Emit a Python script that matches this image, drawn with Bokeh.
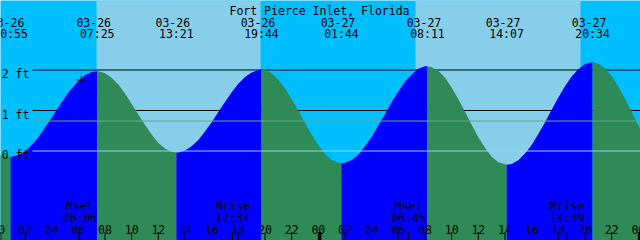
from bokeh.plotting import figure
from bokeh.models import Range1d
from bokeh.core.properties import value
from bokeh.embed import file_html
from bokeh.resources import INLINE

# ---------------- data ----------------
title = "Fort Pierce Inlet, Florida"

# tide level (ft) read every half hour, counted from 03-26 00:00
hours = [i / 2 for i in range(99)]
levels = [-0.09, -0.13, -0.14, -0.10, -0.01, 0.15, 0.34, 0.58, 0.82, 1.08,
          1.33, 1.55, 1.73, 1.87, 1.95, 1.97, 1.92, 1.81, 1.64, 1.42,
          1.16, 0.90, 0.64, 0.41, 0.20, 0.06, -0.02, -0.04, 0.01, 0.12,
          0.27, 0.48, 0.71, 0.96, 1.21, 1.45, 1.66, 1.83, 1.94, 2.00,
          2.00, 1.92, 1.76, 1.55, 1.28, 1.00, 0.69, 0.40, 0.14, -0.07,
          -0.22, -0.29, -0.29, -0.22, -0.09, 0.12, 0.35, 0.63, 0.91, 1.21,
          1.47, 1.71, 1.89, 2.03, 2.09, 2.07, 1.98, 1.81, 1.57, 1.28,
          0.97, 0.65, 0.34, 0.08, -0.14, -0.28, -0.33, -0.32, -0.23, -0.06,
          0.15, 0.42, 0.71, 1.02, 1.32, 1.60, 1.84, 2.02, 2.14, 2.19,
          2.16, 2.04, 1.85, 1.59, 1.29, 0.96, 0.63, 0.31, 0.04]

# high / low tide events
event_dates = ["03-26", "03-26", "03-26", "03-26", "03-27", "03-27", "03-27", "03-27"]
event_times = ["00:55", "07:25", "13:21", "19:44", "01:44", "08:11", "14:07", "20:34"]
event_levels = [-0.14, 1.97, -0.04, 2.01, -0.30, 2.09, -0.34, 2.19]

# daylight
sunrise = ["03-26 07:22", "03-27 07:17"]
sunset = ["03-26 19:40", "03-27 19:40"]

# moon events
moon_names = ["Mset", "Mrise", "Mset", "Mrise"]
moon_dates = ["03-26", "03-26", "03-27", "03-27"]
moon_times = ["06:06", "17:34", "06:45", "18:39"]

# level lines
grid_levels = [0, 1, 2]
grid_labels = ["0 ft", "1 ft", "2 ft"]
mean_level = 0.74

# current-time mark
mark_when = "03-26 06:13"
mark_level = 1.75

# hour axis
tick_hours = [0, 2, 4, 6, 8, 10, 12, 14, 16, 18, 20, 22, 24,
              26, 28, 30, 32, 34, 36, 38, 40, 42, 44, 46, 48]
tick_labels = ["00", "02", "04", "06", "08", "10", "12", "14", "16", "18", "20", "22", "00",
               "02", "04", "06", "08", "10", "12", "14", "16", "18", "20", "22", "00"]
midnights = [0, 24, 48]

# ---------------- layout ----------------
W, H = 640, 240
PX_PER_H = W / 48.0
X0 = 0.1625
X1 = X0 + 48.0
PX_PER_FT = 40.5
ZERO_PX = 150.5
Y1 = ZERO_PX / PX_PER_FT
Y0 = Y1 - H / PX_PER_FT

NIGHT = "#00BFFF"
DAY = "#87CEEB"
RISE = "#0000FF"
FALL = "#2E8B57"
MEAN_COLOR = "#63A98E"
DATUM_COLOR = "#92D5EE"
FONT = value("DejaVu Sans Mono")
FS = "11.5px"


def xpx(px):
    return X0 + px / PX_PER_H


def ypx(px):
    return Y1 - px / PX_PER_FT


def to_h(date, hm):
    day = int(date.split("-")[1]) - 26
    hh, mm = hm.split(":")
    return 24 * day + int(hh) + int(mm) / 60.0


def stamp_h(s):
    d, t = s.split(" ")
    return to_h(d, t)


p = figure(width=W, height=H, output_backend="svg", toolbar_location=None,
           x_range=Range1d(X0, X1), y_range=Range1d(Y0, Y1),
           x_axis_type=None, y_axis_type=None, min_border=0,
           background_fill_color=NIGHT, border_fill_color=NIGHT,
           outline_line_color=None)
p.grid.visible = False

# daylight bands
rise_h = [stamp_h(s) for s in sunrise]
set_h = [stamp_h(s) for s in sunset]
p.quad(left=rise_h, right=set_h, bottom=Y0 - 1, top=Y1 + 1,
       fill_color=DAY, line_color=None)

# level lines behind the water
line_start = xpx(32)
for lv in grid_levels:
    if lv != 0:
        p.segment(x0=[line_start], y0=[lv], x1=[X1 + 1], y1=[lv],
                  line_color="black", line_width=1)

# tide curve: merge half-hourly readings with the extremes
ev_h = [to_h(d, t) for d, t in zip(event_dates, event_times)]
pts = sorted(list(zip(hours, levels)) + list(zip(ev_h, event_levels)))
bounds = [hours[0]] + ev_h + [hours[-1]]
for i in range(len(bounds) - 1):
    a, b = bounds[i], bounds[i + 1]
    seg = [(t, v) for t, v in pts if a <= t <= b]
    xs = [t for t, _ in seg]
    vs = [v for _, v in seg]
    rising = (i % 2 == 1)
    p.varea(x=xs, y1=[Y0 - 1] * len(xs), y2=vs,
            fill_color=RISE if rising else FALL)

# datum and mean lines over the water
p.segment(x0=[line_start], y0=[mean_level], x1=[X1 + 1], y1=[mean_level],
          line_color=MEAN_COLOR, line_width=1)
p.segment(x0=[line_start], y0=[0], x1=[X1 + 1], y1=[0],
          line_color=DATUM_COLOR, line_width=1)

# level labels
p.text(x=[xpx(1.2)] * len(grid_levels),
       y=[ypx(ZERO_PX - lv * PX_PER_FT + 4.0) for lv in grid_levels],
       text=grid_labels, text_font=FONT, text_font_size=FS,
       text_align="left", text_baseline="alphabetic", text_color="black")

# title
p.text(x=[xpx(319)], y=[ypx(10.0)], text=[title], text_font=FONT,
       text_font_size=FS, text_align="center", text_baseline="alphabetic",
       text_color="black")

# tide event labels
p.text(x=ev_h, y=[ypx(21.7)] * len(ev_h), text=event_dates, x_offset=-3.5,
       text_font=FONT, text_font_size=FS, text_align="center",
       text_baseline="alphabetic", text_color="black")
p.text(x=ev_h, y=[ypx(33.4)] * len(ev_h), text=event_times,
       text_font=FONT, text_font_size=FS, text_align="center",
       text_baseline="alphabetic", text_color="black")

# moon labels
moon_h = [to_h(d, t) for d, t in zip(moon_dates, moon_times)]
p.text(x=moon_h, y=[ypx(205.8)] * len(moon_h), text=moon_names,
       text_font=FONT, text_font_size=FS, text_align="center",
       text_baseline="alphabetic", text_color="black")
p.text(x=moon_h, y=[ypx(217.4)] * len(moon_h), text=moon_times,
       text_font=FONT, text_font_size=FS, text_align="center",
       text_baseline="alphabetic", text_color="black")

# hour ticks and labels
tick_top = ypx(231.5)
tick_bot = ypx(H + 2)
p.segment(x0=tick_hours, y0=[tick_top] * len(tick_hours),
          x1=tick_hours, y1=[tick_bot] * len(tick_hours),
          line_color="black", line_width=1)
mid_x = [m + 1.5 / PX_PER_H for m in midnights]
p.segment(x0=mid_x, y0=[tick_top] * len(mid_x), x1=mid_x, y1=[tick_bot] * len(mid_x),
          line_color="black", line_width=3)
p.segment(x0=moon_h, y0=[tick_top] * len(moon_h), x1=moon_h, y1=[tick_bot] * len(moon_h),
          line_color="black", line_width=1)
p.text(x=tick_hours, y=[ypx(229.3)] * len(tick_hours), text=tick_labels,
       text_font=FONT, text_font_size=FS, text_align="center",
       text_baseline="alphabetic", text_color="black")

# current-time mark
p.scatter(x=[stamp_h(mark_when)], y=[mark_level], marker="cross", size=9,
          line_color="black", line_width=1)

open("out.html", "w").write(file_html(p, INLINE))
